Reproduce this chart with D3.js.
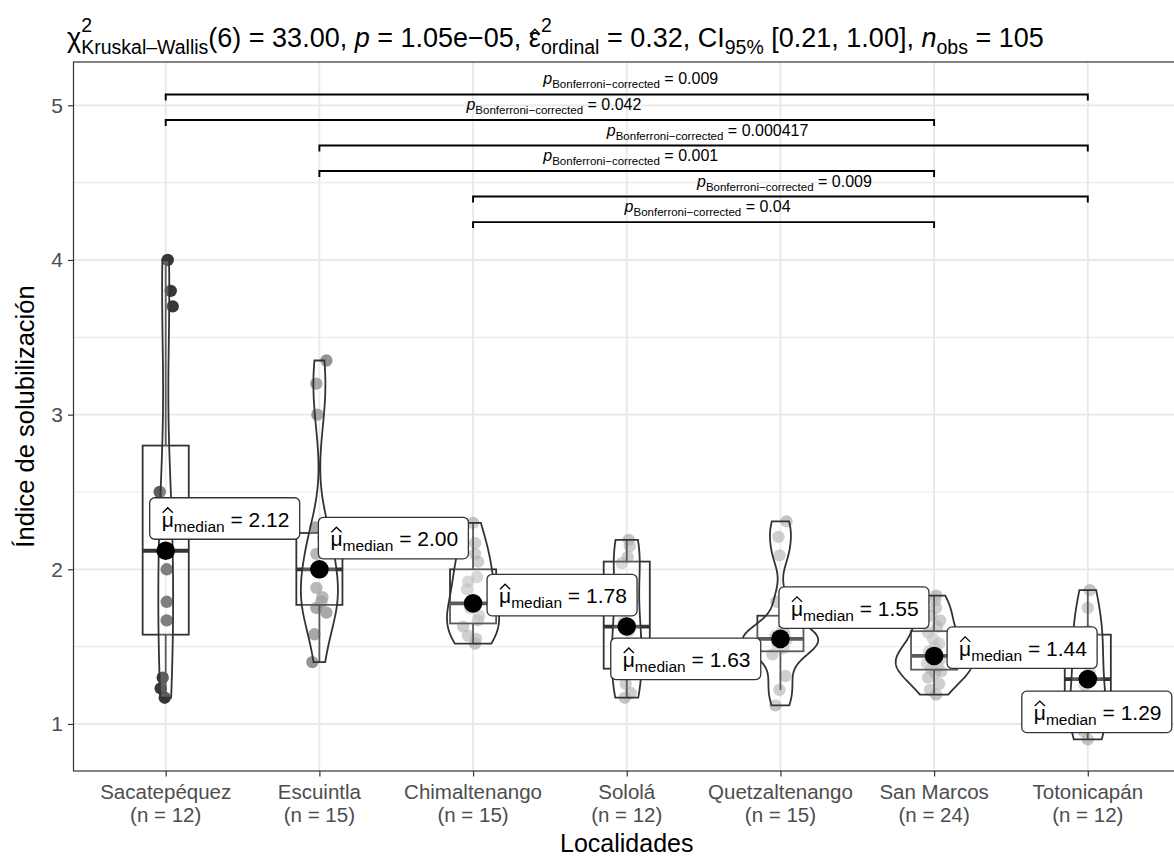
<!DOCTYPE html>
<html>
<head>
<meta charset="utf-8">
<script src="https://cdn.jsdelivr.net/npm/d3@7"></script>
<style>
  body { margin: 0; background: #fff; }
  svg { display: block; font-family: "Liberation Sans", Arial, Helvetica, sans-serif; }
</style>
</head>
<body>
<svg id="chart" width="1174" height="858"></svg>
<script>
// ---- data ----
const categories = ["Sacatepéquez", "Escuintla", "Chimaltenango", "Sololá", "Quetzaltenango", "San Marcos", "Totonicapán"];

const sacatepequez   = [1.17, 1.23, 1.30, 1.67, 1.79, 2.00, 2.24, 2.30, 2.50, 3.70, 3.80, 4.00];
const escuintla      = [1.40, 1.58, 1.72, 1.75, 1.79, 1.82, 1.88, 2.00, 2.00, 2.10, 2.20, 2.27, 3.00, 3.20, 3.35];
const chimaltenango  = [1.52, 1.55, 1.57, 1.63, 1.67, 1.70, 1.75, 1.78, 1.87, 1.92, 1.95, 2.05, 2.10, 2.17, 2.30];
const solola         = [1.17, 1.20, 1.26, 1.39, 1.50, 1.60, 1.66, 1.80, 2.04, 2.08, 2.15, 2.19];
const quetzaltenango = [1.12, 1.22, 1.31, 1.45, 1.49, 1.52, 1.54, 1.55, 1.57, 1.59, 1.61, 1.79, 2.09, 2.21, 2.31];
const sanMarcos      = [1.19, 1.22, 1.26, 1.30, 1.33, 1.34, 1.355, 1.37, 1.39, 1.40, 1.42, 1.43,
                        1.45, 1.47, 1.50, 1.52, 1.55, 1.59, 1.63, 1.67, 1.70, 1.75, 1.80, 1.83];
const totonicapan    = [0.90, 0.95, 1.00, 1.05, 1.15, 1.25, 1.33, 1.45, 1.57, 1.60, 1.75, 1.865];

// horizontal jitter of each point, in pixels, as seen in the picture
const jitterSac   = [-1, -5, -3, 1, 1, 1, 4, -2, -6, 7, 5, 2];
const jitterEsc   = [-7, -5, 7, -3, 2, 3, -3, 3, -2, -3, 4, -4, -2, -3, 7];
const jitterChim  = [2, 3, -5, -10, 5, 6, -3, 0, -6, -5, 4, 5, 2, 2, 0];
const jitterSol   = [-2, 4, -1, 5, -4, 2, -3, 6, -5, 1, 3, 2];
const jitterQuetz = [-5, -1, 5, -8, 3, -3, 6, 0, -5, 4, 2, -4, -1, -2, 6];
const jitterSM    = [2, -4, 5, -6, 1, 7, -3, 4, -7, 0, 6, -2, 3, -5, 1, 5, -1, -6, 3, 6, -3, 2, 1, 2];
const jitterToto  = [0, -4, 3, -2, 5, -3, 2, -5, 4, 1, 0, 2];

const groupValues = [sacatepequez, escuintla, chimaltenango, solola, quetzaltenango, sanMarcos, totonicapan];
const groupJitter = [jitterSac, jitterEsc, jitterChim, jitterSol, jitterQuetz, jitterSM, jitterToto];

// pairwise comparisons (Bonferroni)
const pairFrom  = ["Sacatepéquez", "Sacatepéquez", "Escuintla", "Escuintla", "Chimaltenango", "Chimaltenango"];
const pairTo    = ["Totonicapán", "San Marcos", "Totonicapán", "San Marcos", "Totonicapán", "San Marcos"];
const pairP     = ["0.009", "0.042", "0.000417", "0.001", "0.009", "0.04"];
const pairY     = [5.07, 4.905, 4.74, 4.575, 4.41, 4.245];

const yTicks = [1, 2, 3, 4, 5];
const yMinor = [1.5, 2.5, 3.5, 4.5];

// ---- layout ----
const svg = d3.select("#chart");
const panel = { left: 73.5, right: 1180, top: 62, bottom: 771 };

const x = d3.scalePoint().domain(categories).range([panel.left, panel.right]).padding(0.6);
const y = d3.scaleLinear().domain([0.696, 5.28]).range([panel.bottom, panel.top]);
const step = x.step();

const ink = "#333333";
const pointFill = ["#262626", "#6a6a6a", "#9c9c9c", "#9c9c9c", "#9c9c9c", "#9c9c9c", "#9c9c9c"];
const pointAlpha = [0.92, 0.72, 0.6, 0.6, 0.6, 0.6, 0.6];

// where the repelled median labels ended up, relative to the median dot (px)
const labelShift = [[-16, -53], [-1, -52], [14, -29], [-16, 11.5], [-1.5, -52], [13, -29], [-66, 12]];

// rich text: parts laid out one after another; "stack" shares x with previous part
function richText(g, x0, y0, parts, anchor) {
  const grp = g.append("g");
  let cx = 0, prevStart = 0;
  parts.forEach(p => {
    const t = grp.append("text")
      .attr("y", p.dy || 0)
      .attr("font-size", p.s)
      .attr("font-style", p.i ? "italic" : null)
      .attr("fill", "#000")
      .style("white-space", "pre")
      .text(p.t);
    const w = t.node().getComputedTextLength();
    let start;
    if (p.stack) {
      start = prevStart;
      cx = Math.max(cx, start + w);
    } else {
      start = cx;
      cx = start + w;
    }
    t.attr("x", start);
    if (p.hat) {
      const top = (p.dy || 0) - p.s * (p.hatH || 0.78);
      grp.append("path")
        .attr("d", `M${start + w * 0.08},${top + 4} L${start + w * 0.5},${top - 1} L${start + w * 0.92},${top + 4}`)
        .attr("fill", "none").attr("stroke", "#000").attr("stroke-width", 1.3);
    }
    prevStart = start;
  });
  let off = 0;
  if (anchor === "middle") off = -cx / 2;
  if (anchor === "end") off = -cx;
  grp.attr("transform", `translate(${x0 + off},${y0})`);
  return cx;
}

// ---- grid ----
const grid = svg.append("g");
grid.selectAll(".minor").data(yMinor).join("line")
  .attr("x1", panel.left).attr("x2", panel.right)
  .attr("y1", d => y(d)).attr("y2", d => y(d))
  .attr("stroke", "#ebebeb").attr("stroke-width", 1.2);
grid.selectAll(".majy").data(yTicks).join("line")
  .attr("x1", panel.left).attr("x2", panel.right)
  .attr("y1", d => y(d)).attr("y2", d => y(d))
  .attr("stroke", "#e8e8e8").attr("stroke-width", 1.8);
grid.selectAll(".majx").data(categories).join("line")
  .attr("x1", d => x(d)).attr("x2", d => x(d))
  .attr("y1", panel.top).attr("y2", panel.bottom)
  .attr("stroke", "#e8e8e8").attr("stroke-width", 1.8);

// ---- stats per group ----
function kde(values) {
  const s = values.slice().sort(d3.ascending);
  const n = s.length;
  const sd = d3.deviation(s);
  const iqr = d3.quantile(s, 0.75) - d3.quantile(s, 0.25);
  const bw = 0.9 * Math.min(sd, iqr / 1.34) * Math.pow(n, -0.2);
  const lo = s[0], hi = s[n - 1];
  const pts = d3.range(0, 201).map(i => lo + (hi - lo) * i / 200);
  return pts.map(v => {
    const dens = d3.sum(s, d => Math.exp(-0.5 * ((v - d) / bw) ** 2)) / (n * bw * Math.sqrt(2 * Math.PI));
    return [v, dens];
  });
}

const stats = groupValues.map((vals, i) => {
  const s = vals.slice().sort(d3.ascending);
  const q1 = d3.quantile(s, 0.25), med = d3.quantile(s, 0.5), q3 = d3.quantile(s, 0.75);
  const iqr = q3 - q1;
  const hiW = d3.max(s.filter(v => v <= q3 + 1.5 * iqr));
  const loW = d3.min(s.filter(v => v >= q1 - 1.5 * iqr));
  return { cat: categories[i], vals, q1, med, q3, hiW, loW, dens: kde(vals) };
});
const maxDens = d3.max(stats, s => d3.max(s.dens, d => d[1]));

const marks = svg.append("g");

// jittered points
stats.forEach((st, i) => {
  marks.append("g").selectAll("circle").data(st.vals).join("circle")
    .attr("cx", (d, j) => x(st.cat) + groupJitter[i][j])
    .attr("cy", d => y(d))
    .attr("r", 6.2)
    .attr("fill", pointFill[i])
    .attr("fill-opacity", pointAlpha[i]);
});

// boxplots
const boxW = 0.3 * step;
stats.forEach(st => {
  const cx = x(st.cat);
  const g = marks.append("g").attr("stroke", ink).attr("stroke-width", 1.8);
  g.append("line").attr("x1", cx).attr("x2", cx).attr("y1", y(st.q3)).attr("y2", y(st.hiW));
  g.append("line").attr("x1", cx).attr("x2", cx).attr("y1", y(st.q1)).attr("y2", y(st.loW));
  g.append("rect")
    .attr("x", cx - boxW / 2).attr("width", boxW)
    .attr("y", y(st.q3)).attr("height", y(st.q1) - y(st.q3))
    .attr("fill", "#fff").attr("fill-opacity", 0.2);
  g.append("line").attr("x1", cx - boxW / 2).attr("x2", cx + boxW / 2)
    .attr("y1", y(st.med)).attr("y2", y(st.med)).attr("stroke-width", 3.8);
});

// violins (area scaled)
const halfMax = 0.25 * step;
stats.forEach(st => {
  const cx = x(st.cat);
  const area = d3.area()
    .x0(d => cx - d[1] / maxDens * halfMax)
    .x1(d => cx + d[1] / maxDens * halfMax)
    .y(d => y(d[0]));
  marks.append("path")
    .attr("d", area(st.dens) + "Z")
    .attr("fill", "#fff").attr("fill-opacity", 0.2)
    .attr("stroke", ink).attr("stroke-width", 1.8);
});

// median dots
marks.selectAll(".med").data(stats).join("circle")
  .attr("cx", d => x(d.cat)).attr("cy", d => y(d.med))
  .attr("r", 9.3).attr("fill", "#000");

// median labels
stats.forEach((st, i) => {
  const lx = x(st.cat) + labelShift[i][0];
  const ly = y(st.med) + labelShift[i][1];
  const g = marks.append("g");
  g.append("rect")
    .attr("x", lx).attr("y", ly).attr("width", 150).attr("height", 41.5)
    .attr("rx", 5).attr("fill", "#fff").attr("stroke", ink).attr("stroke-width", 1.3);
  richText(g, lx + 12, ly + 29, [
    { t: "μ", s: 21, hat: true, hatH: 0.86 },
    { t: "median", s: 15.5, dy: 5 },
    { t: " = " + d3.format(".2f")(st.med), s: 21 }
  ]);
});

// pairwise comparison brackets
const sig = svg.append("g");
pairP.forEach((p, k) => {
  const x1 = x(pairFrom[k]), x2 = x(pairTo[k]), yy = y(pairY[k]);
  sig.append("path")
    .attr("d", `M${x1},${yy + 6}V${yy}H${x2}V${yy + 6}`)
    .attr("fill", "none").attr("stroke", "#000").attr("stroke-width", 1.9);
  richText(sig, (x1 + x2) / 2 + 4, yy - 10, [
    { t: "p", s: 16, i: true },
    { t: "Bonferroni−corrected", s: 11.5, dy: 4 },
    { t: " = " + p, s: 16 }
  ], "middle");
});

// ---- panel border & axes ----
svg.append("rect")
  .attr("x", panel.left).attr("y", panel.top)
  .attr("width", panel.right - panel.left).attr("height", panel.bottom - panel.top)
  .attr("fill", "none").attr("stroke", ink).attr("stroke-width", 1.2);

const yAxis = svg.append("g")
  .attr("transform", `translate(${panel.left},0)`)
  .call(d3.axisLeft(y).tickValues(yTicks).tickSize(5.5).tickPadding(5).tickFormat(d3.format("d")));
yAxis.select(".domain").remove();
yAxis.selectAll(".tick line").attr("stroke", ink).attr("stroke-width", 1.2);
yAxis.selectAll(".tick text").attr("font-size", 21).attr("fill", "#4d4d4d")
  .attr("font-family", "Liberation Sans, Arial, sans-serif");

const xAxis = svg.append("g")
  .attr("transform", `translate(0,${panel.bottom})`)
  .call(d3.axisBottom(x).tickSize(5.5).tickFormat(""));
xAxis.select(".domain").remove();
xAxis.selectAll(".tick line").attr("stroke", ink).attr("stroke-width", 1.2);

stats.forEach(st => {
  const t = svg.append("text")
    .attr("x", x(st.cat)).attr("y", 799)
    .attr("text-anchor", "middle").attr("font-size", 20.5).attr("fill", "#4d4d4d");
  t.append("tspan").attr("x", x(st.cat)).text(st.cat);
  t.append("tspan").attr("x", x(st.cat)).attr("dy", 23).text(`(n = ${st.vals.length})`);
});

svg.append("text")
  .attr("x", (panel.left + 1180) / 2).attr("y", 852)
  .attr("text-anchor", "middle").attr("font-size", 25).attr("fill", "#000")
  .text("Localidades");

svg.append("text")
  .attr("transform", `translate(34,${(panel.top + panel.bottom) / 2}) rotate(-90)`)
  .attr("text-anchor", "middle").attr("font-size", 25.5).attr("fill", "#000")
  .text("Índice de solubilización");

// ---- subtitle with test statistics ----
richText(svg, 67, 47, [
  { t: "χ", s: 27 },
  { t: "Kruskal–Wallis", s: 19.5, dy: 7 },
  { t: "2", s: 19.5, dy: -15, stack: true },
  { t: "(6) = 33.00, ", s: 27 },
  { t: "p", s: 27, i: true },
  { t: " = 1.05e−05, ", s: 27 },
  { t: "ε", s: 27, hat: true, hatH: 0.62 },
  { t: "ordinal", s: 19.5, dy: 7 },
  { t: "2", s: 19.5, dy: -15, stack: true },
  { t: " = 0.32, CI", s: 27 },
  { t: "95%", s: 19.5, dy: 7 },
  { t: " [0.21, 1.00], ", s: 27 },
  { t: "n", s: 27, i: true },
  { t: "obs", s: 19.5, dy: 7 },
  { t: " = 105", s: 27 }
]);
</script>
</body>
</html>
